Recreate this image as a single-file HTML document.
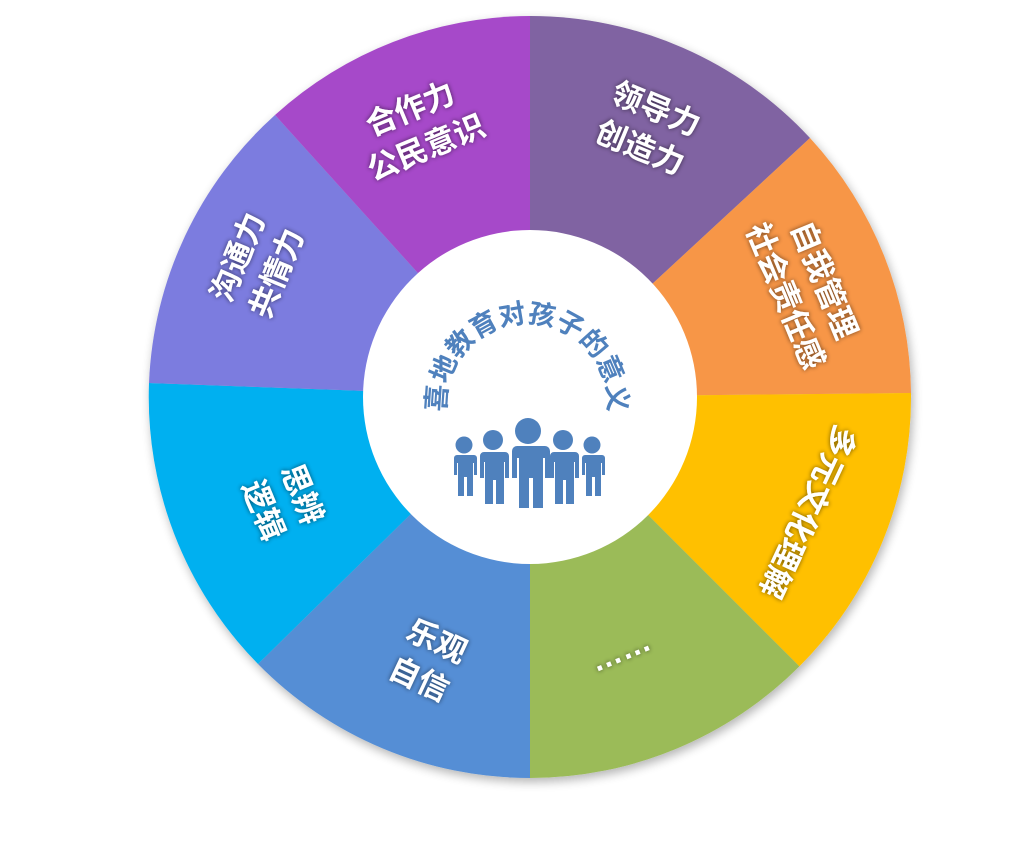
<!DOCTYPE html>
<html><head><meta charset="utf-8"><style>
html,body{margin:0;padding:0;background:#fff;width:1030px;height:847px;overflow:hidden}
svg{display:block}
.l{font-family:"Liberation Sans","Noto Sans CJK SC",sans-serif;font-weight:bold;font-size:31px;fill:#fff;text-anchor:middle}
</style></head><body>
<svg width="1030" height="847" viewBox="0 0 1030 847" xmlns="http://www.w3.org/2000/svg">
<defs>
<filter id="sh" x="-20%" y="-20%" width="140%" height="140%"><feGaussianBlur in="SourceAlpha" stdDeviation="2.5"/><feOffset dx="0" dy="0"/><feComponentTransfer><feFuncA type="linear" slope="0.6"/></feComponentTransfer><feMerge><feMergeNode/><feMergeNode in="SourceGraphic"/></feMerge></filter>
<filter id="ws" x="-10%" y="-10%" width="120%" height="120%"><feGaussianBlur in="SourceAlpha" stdDeviation="5"/><feOffset dx="2" dy="4"/><feComponentTransfer><feFuncA type="linear" slope="0.3"/></feComponentTransfer><feMerge><feMergeNode/><feMergeNode in="SourceGraphic"/></feMerge></filter>
<path id="arc" d="M 446 404 A 81 81 0 1 1 608 404"/>
</defs>
<g filter="url(#ws)">
<path d="M530 397 L530 16 A381 381 0 0 1 810 138 Z" fill="#8064A2"/>
<path d="M530 397 L810 138 A381 381 0 0 1 911 393 Z" fill="#F79646"/>
<path d="M530 397 L911 393 A381 381 0 0 1 799.4 666.4 Z" fill="#FFC000"/>
<path d="M530 397 L799.4 666.4 A381 381 0 0 1 530 778 Z" fill="#9BBB59"/>
<path d="M530 397 L530 778 A381 381 0 0 1 258 664 Z" fill="#558ED5"/>
<path d="M530 397 L258 664 A381 381 0 0 1 149 383 Z" fill="#00B0F0"/>
<path d="M530 397 L149 383 A381 381 0 0 1 275 115 Z" fill="#7B7BDF"/>
<path d="M530 397 L275 115 A381 381 0 0 1 530 16 Z" fill="#A64AC9"/>
</g>
<circle cx="530" cy="397" r="167" fill="#fff"/>
<text font-family="Liberation Sans,'Noto Sans CJK SC',sans-serif" font-weight="bold" font-size="27" fill="#4F81BD" text-anchor="middle"><textPath href="#arc" startOffset="50%">喜地教育对孩子的意义</textPath></text>
<g fill="#4F81BD">
<circle cx="528" cy="431" r="13"/>
<path d="M512 446 h33 a5 5 0 0 1 5 5 v27 h-5 v-20 h-2 v50 h-10 v-30 h-4 v30 h-10 v-50 h-2 v20 h-5 v-27 a5 5 0 0 1 5 -5z"/>
<circle cx="493" cy="440" r="10"/>
<path d="M481 452 h24 a4 4 0 0 1 4 4 v22 h-4 v-16 h-1 v42 h-8 v-24 h-3 v24 h-8 v-42 h-1 v16 h-4 v-22 a4 4 0 0 1 4 -4z"/>
<circle cx="563" cy="440" r="10"/>
<path d="M551 452 h24 a4 4 0 0 1 4 4 v22 h-4 v-16 h-1 v42 h-8 v-24 h-3 v24 h-8 v-42 h-1 v16 h-4 v-22 a4 4 0 0 1 4 -4z"/>
<circle cx="464" cy="445" r="8.5"/>
<path d="M454 455 h20 a3 3 0 0 1 3 3 v17 h-3 v-12 h-1 v33 h-6 v-19 h-3 v19 h-6 v-33 h-1 v12 h-3 v-17 a3 3 0 0 1 3 -3z"/>
<circle cx="592" cy="445" r="8.5"/>
<path d="M582 455 h20 a3 3 0 0 1 3 3 v17 h-3 v-12 h-1 v33 h-6 v-19 h-3 v19 h-6 v-33 h-1 v12 h-3 v-17 a3 3 0 0 1 3 -3z"/>
</g>
<g filter="url(#sh)">
<g transform="translate(418,128) rotate(-22.5)"><text class="l" y="-10">合作力</text><text class="l" y="32">公民意识</text></g>
<g transform="translate(648,128) rotate(22.5)"><text class="l" y="-10">领导力</text><text class="l" y="32">创造力</text></g>
<g transform="translate(805,288) rotate(67.5)"><text class="l" y="-10">自我管理</text><text class="l" y="32">社会责任感</text></g>
<g transform="translate(808,512) rotate(115)"><text class="l" y="11">多元文化理解</text></g>
<g transform="translate(622,655) rotate(-22.5)"><text class="l" y="6">……</text></g>
<g transform="translate(428,660) rotate(25)"><text class="l" y="-10">乐观</text><text class="l" y="32">自信</text></g>
<g transform="translate(283,502) rotate(67.5)"><text class="l" y="-10">思辨</text><text class="l" y="32">逻辑</text></g>
<g transform="translate(257,265) rotate(-67.5)"><text class="l" y="-10">沟通力</text><text class="l" y="32">共情力</text></g>
</g>
</svg>
</body></html>
